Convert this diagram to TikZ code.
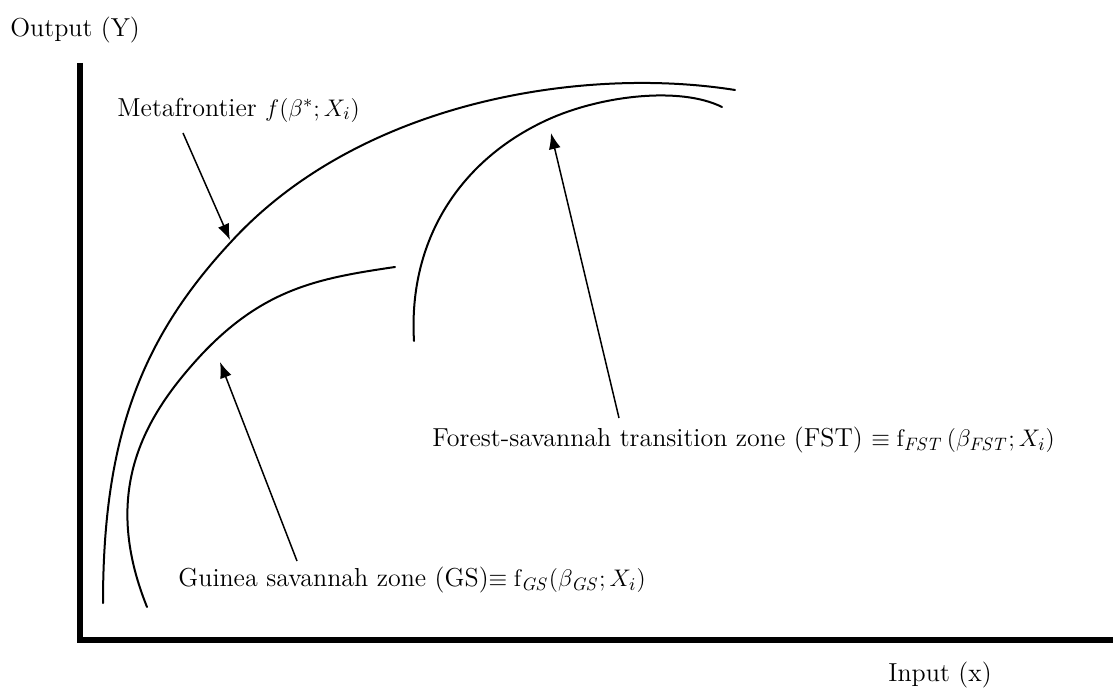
\documentclass[tikz,border=0pt]{standalone}
\usepackage{amsmath,amssymb}
\usepackage{tikz}
\usetikzlibrary{arrows.meta,positioning}

\begin{document}
\begin{tikzpicture}[
    x=0.5pt, y=-0.5pt,
    axis/.style={line width=2.6pt},
    frontier/.style={line width=1pt, line cap=round},
    pointer/.style={-{Latex[length=8pt,width=6pt]}, line width=0.75pt},
    lbl/.style={anchor=west, inner sep=0pt, font=\fontsize{13}{15.6}\selectfont},
]
\useasboundingbox (0,0) rectangle (1113,689);

% Axes
\coordinate (origin) at (80,640);
\coordinate (ytop) at (80,63);
\coordinate (xend) at (1113,640);
\draw[axis] (ytop) -- (origin) -- (xend);
\node[lbl] (ylab) at (10,30) {Output (Y)};
\node[lbl] (xlab) at (888,675) {Input (x)};

% Frontiers
\coordinate (metalow) at (103,603);
\coordinate (metamid) at (230,243);
\coordinate (metaend) at (735,90);
\draw[frontier] (metalow) .. controls (103,440) and (140,340) .. (metamid)
                          .. controls (360,100) and (585,66) .. (metaend);
\coordinate (gslow) at (147,607);
\coordinate (gsmid) at (203,353);
\coordinate (gsend) at (395,267);
\draw[frontier] (gslow) .. controls (100,490) and (145,415) .. (gsmid)
                        .. controls (265,288) and (320,278) .. (gsend);
\coordinate (fstlow) at (414,341);
\coordinate (fstmid) at (547,120);
\coordinate (fstend) at (722,107);
\draw[frontier] (fstlow) .. controls (408,240) and (460,160) .. (fstmid)
                         .. controls (600,95.6) and (680,86) .. (fstend);

% Labels
\node[lbl] (meta) at (117,110) {Metafrontier $f(\beta^{*};X_i)$};
\node[lbl] (fst) at (432,440) {Forest-savannah transition zone (FST) $\equiv \mathrm{f}_{\mathit{FST}}\,(\beta_{\mathit{FST}};X_i)$};
\node[lbl] (gs) at (178,580) {Guinea savannah zone (GS)$\equiv \mathrm{f}_{\mathit{GS}}(\beta_{\mathit{GS}};X_i)$};

% Pointers
\coordinate (metafoot) at (183,133);
\coordinate (metatip) at (230,240);
\coordinate (fstfoot) at (619,418);
\coordinate (fsttip) at (551,133);
\coordinate (gsfoot) at (297,561);
\coordinate (gstip) at (220,362);
\draw[pointer] (metafoot) -- (metatip);
\draw[pointer] (fstfoot) -- (fsttip);
\draw[pointer] (gsfoot) -- (gstip);
\end{tikzpicture}
\end{document}
